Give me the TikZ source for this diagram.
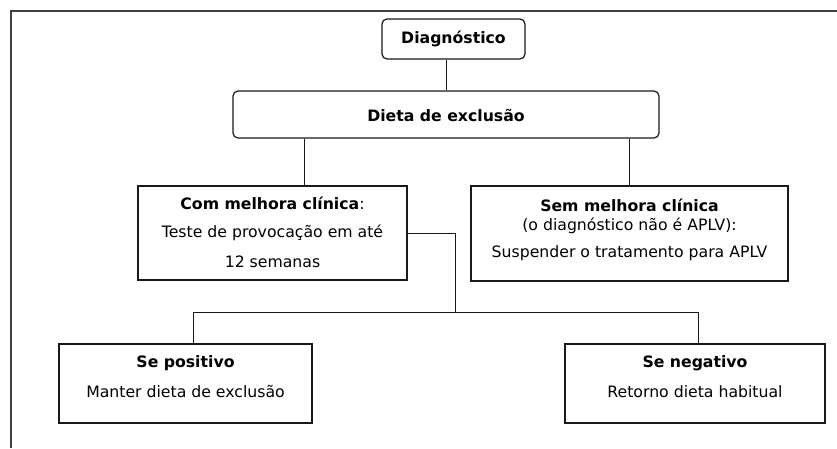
\documentclass[tikz,border=0pt]{standalone}
\usepackage{fontspec}
\setmainfont{DejaVu Sans}
\begin{document}
\begin{tikzpicture}[x=1pt,y=-1pt,
  box/.style={draw=black!90, line width=1.2pt},
  rbox/.style={box, rounded corners=5pt},
  link/.style={draw=black!90, line width=1pt},
  txt/.style={anchor=base, inner sep=0pt, font=\fontsize{15.7}{18}\selectfont},
  btxt/.style={anchor=base, inner sep=0pt, font=\fontsize{15.7}{18}\selectfont\bfseries}]
\useasboundingbox (0,0) rectangle (837,448);
\draw[line width=1.5pt, draw=black!75] (11,448) -- (11,11) -- (837,11);

% boxes
\node[rbox, minimum width=143pt, minimum height=40pt] (diag) at (453.5,39) {};
\node[rbox, minimum width=426pt, minimum height=47pt] (dieta) at (446,114.5) {};
\node[box, minimum width=269pt, minimum height=94pt] (com) at (272.5,233) {};
\node[box, minimum width=317pt, minimum height=95pt] (sem) at (629.5,233.5) {};
\node[box, minimum width=253pt, minimum height=79pt] (pos) at (185.5,383.5) {};
\node[box, minimum width=260pt, minimum height=79pt] (neg) at (695,383.5) {};

% texts
\node[btxt] (tdiag) at (453.5,43.5) {Diagnóstico};
\node[btxt] (tdieta) at (446,121) {Dieta de exclusão};
\node[txt] (tcom1) at (272.5,209) {\textbf{Com melhora clínica}:};
\node[txt] (tcom2) at (272.5,237.7) {Teste de provocação em até};
\node[txt] (tcom3) at (272.5,267) {12 semanas};
\node[btxt] (tsem1) at (629.5,211) {Sem melhora clínica};
\node[txt] (tsem2) at (629.5,230) {(o diagnóstico não é APLV):};
\node[txt] (tsem3) at (629.5,257.7) {Suspender o tratamento para APLV};
\node[btxt] (tpos1) at (185.5,367) {Se positivo};
\node[txt] (tpos2) at (185.5,397) {Manter dieta de exclusão};
\node[btxt] (tneg1) at (695,367) {Se negativo};
\node[txt] (tneg2) at (695,397) {Retorno dieta habitual};

% connectors
\coordinate (xl) at (304,0);
\coordinate (j) at (455,312);
\coordinate (xp) at (193,0);
\coordinate (xn) at (698,0);
\draw[link] (dieta.north) -- (dieta.north |- diag.south);
\draw[link] (dieta.south -| xl) -- (com.north -| xl);
\draw[link] (dieta.south -| sem.north) -- (sem.north);
\draw[link] (com.east) -- (com.east -| j) -- (j);
\draw[link] (pos.north -| xp) -- (j -| xp) -- (j -| xn) -- (neg.north -| xn);
\end{tikzpicture}
\end{document}
